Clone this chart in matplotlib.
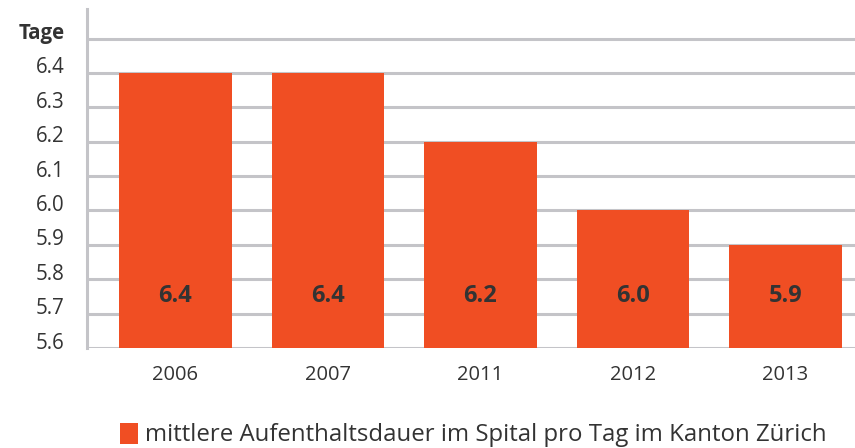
import matplotlib.pyplot as plt
import matplotlib.transforms as mtransforms
from matplotlib.patches import Patch

plt.rcParams['font.family'] = ['Open Sans', 'DejaVu Sans']

# Daten
jahre = ['2006', '2007', '2011', '2012', '2013']
tage = [6.4, 6.4, 6.2, 6.0, 5.9]
y_ticks = [5.6, 5.7, 5.8, 5.9, 6.0, 6.1, 6.2, 6.3, 6.4, 6.5]
legende = 'mittlere Aufenthaltsdauer im Spital pro Tag im Kanton Zürich'

bar_color = '#F04E23'
grid_color = '#C4C4C8'
text_color = '#333333'

fig = plt.figure(figsize=(8.55, 4.48), dpi=100)
ax = fig.add_axes([87 / 855, 100 / 448, 1 - 87 / 855, 339 / 448])

x = list(range(len(jahre)))
ax.bar(x, [t - 5.6 for t in tage], bottom=5.6, width=0.74, color=bar_color, zorder=3)

for xi, t in zip(x, tage):
    ax.text(xi, 5.75, f'{t:.1f}', ha='center', va='center', fontsize=17,
            fontweight='bold', color=text_color, zorder=4)

ax.set_xlim(-0.58, 4.456)
ax.set_ylim(5.6, 6.586)

ax.set_yticks(y_ticks)
labels = [f'{v:.1f}' for v in y_ticks]
labels[-1] = 'Tage'
ax.set_yticklabels(labels)
ax.yaxis.grid(True, color=grid_color, linewidth=2.2, zorder=1)
ax.set_axisbelow(True)
ax.tick_params(axis='y', length=0, pad=16, labelsize=14.8, labelcolor=text_color)
offset = mtransforms.ScaledTranslation(0, 5 / 100, fig.dpi_scale_trans)
for lbl in ax.get_yticklabels():
    lbl.set_transform(lbl.get_transform() + offset)
    lbl.set_va('center')
ax.get_yticklabels()[-1].set_fontweight('bold')

ax.set_xticks(x)
ax.set_xticklabels(jahre)
ax.tick_params(axis='x', length=0, pad=12, labelsize=14.5, labelcolor=text_color)

for s in ['top', 'right', 'bottom']:
    ax.spines[s].set_visible(False)
ax.spines['left'].set_color(grid_color)
ax.spines['left'].set_linewidth(2.2)

handle = Patch(facecolor=bar_color, edgecolor='none')
fig.legend([handle], [legende], loc='center', bbox_to_anchor=(473 / 855, 1 - 435 / 448),
           frameon=False, fontsize=17.3, handlelength=0.75, handleheight=1.0,
           handletextpad=0.3, labelcolor=text_color, borderpad=0)

plt.savefig('out.png', dpi=100)
